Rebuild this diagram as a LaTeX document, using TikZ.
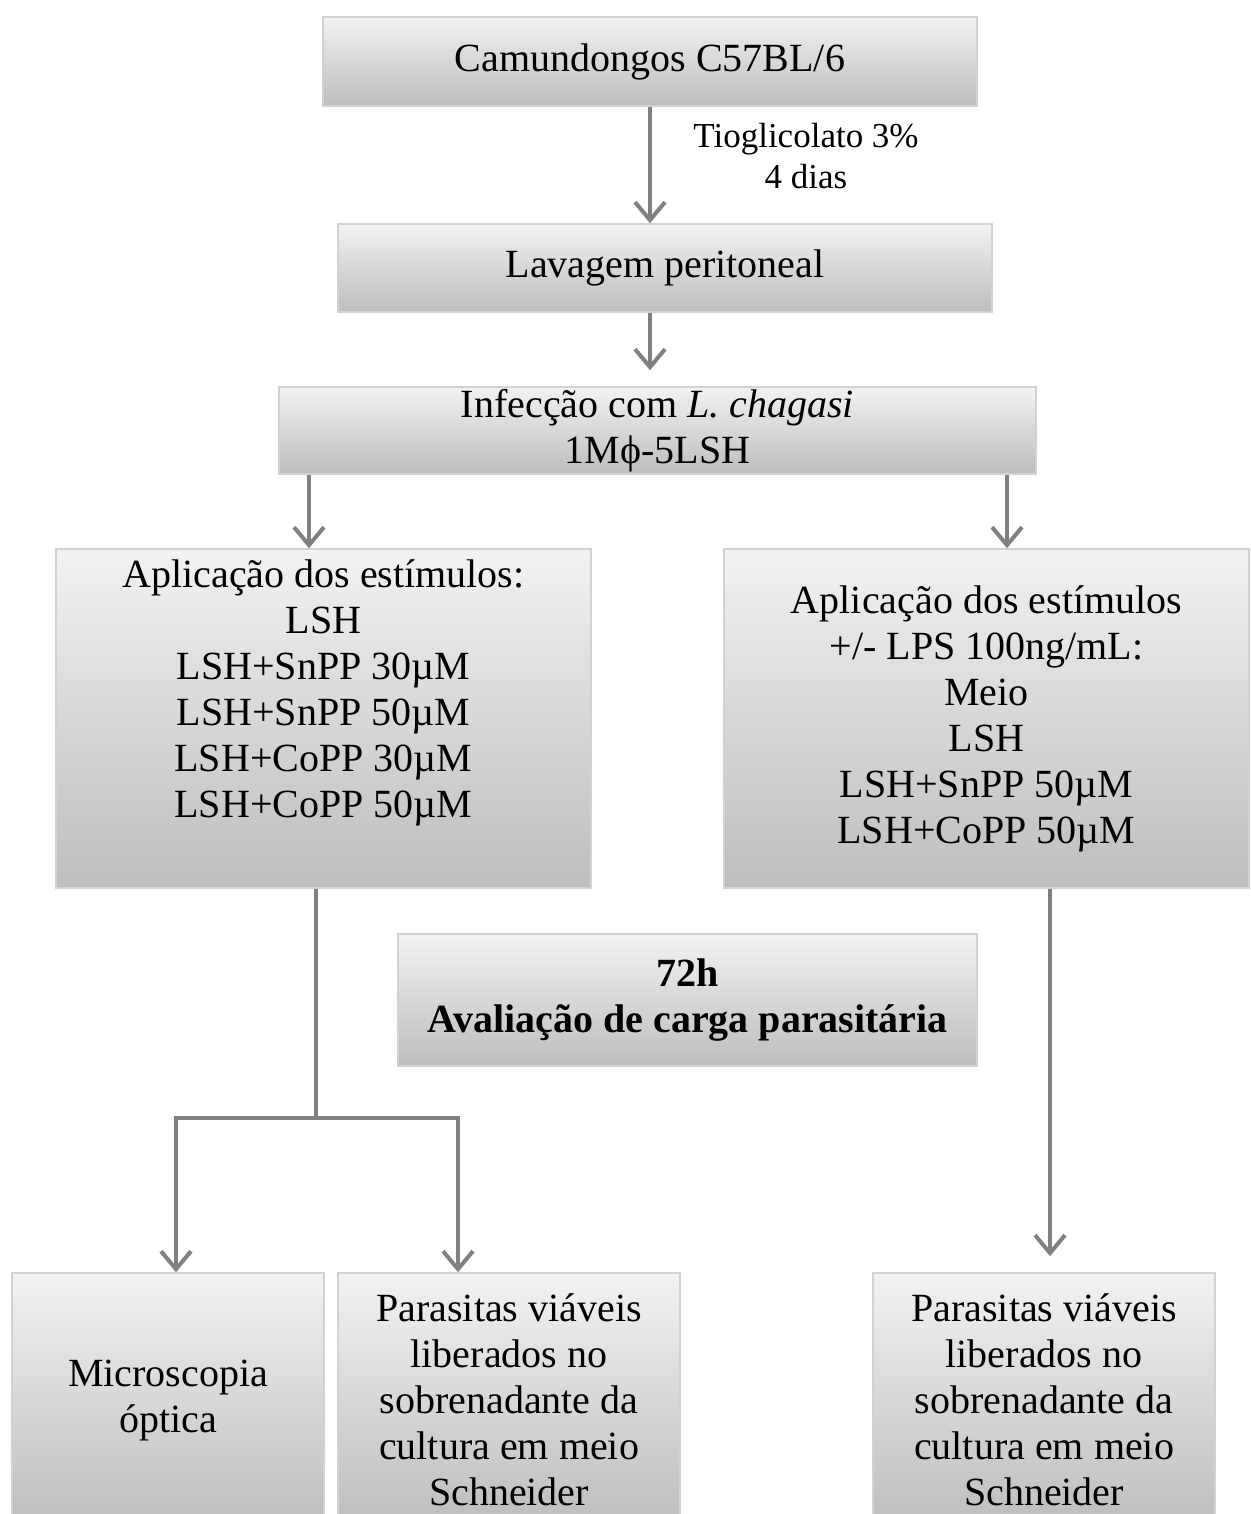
\documentclass[tikz,border=0pt]{standalone}
\usepackage{fontspec}
\setmainfont{Liberation Serif}
\usetikzlibrary{arrows.meta,positioning}

\definecolor{boxtop}{HTML}{F2F2F2}
\definecolor{boxbot}{HTML}{BDBDBD}
\definecolor{boxline}{HTML}{D2D2D2}
\definecolor{arrowgray}{HTML}{808080}

\tikzset{
    box/.style={draw=boxline,line width=0.75pt,top color=boxtop,bottom color=boxbot,
        align=center,inner sep=0pt,font=\fontsize{20}{23}\selectfont},
    conn/.style={draw=arrowgray,line width=2pt},
    arr/.style={conn,-{Straight Barb[length=9pt,width=15pt]}}
}

\begin{document}
\begin{tikzpicture}[x=0.5pt,y=-0.5pt]
        \useasboundingbox (0,0) rectangle (1250,1514);
        % top of the flow
        \node[box,minimum width=327pt,minimum height=44.5pt] (camundongos) at (650,61.5) {Camundongos C57BL/6};
        \node[align=center,font=\fontsize{17.5}{20.5}\selectfont] (tioglicolato) at (806,156) {Tioglicolato 3\%\\4 dias};
        \node[box,minimum width=327pt,minimum height=44pt] (lavagem) at (665,268) {Lavagem peritoneal};
        \node[box,minimum width=378.5pt,minimum height=43.5pt] (infeccao) at (657.5,430.5) {Infecção com \textit{L. chagasi}\\1Mϕ-5LSH};
        % stimuli
        \node[box,minimum width=267.5pt,minimum height=169.5pt] (estimL) at (323.5,718.5) {Aplicação dos estímulos:\\LSH\\LSH+SnPP 30µM\\LSH+SnPP 50µM\\LSH+CoPP 30µM\\LSH+CoPP 50µM\\\strut};
        \node[box,minimum width=262.5pt,minimum height=169.5pt] (estimR) at (986.5,718.5) {Aplicação dos estímulos\\+/- LPS 100ng/mL:\\Meio\\LSH\\LSH+SnPP 50µM\\LSH+CoPP 50µM};
        \node[box,font=\fontsize{20}{23}\selectfont\bfseries,minimum width=289.5pt,minimum height=66pt] (avaliacao) at (687.5,1000) {72h\\Avaliação de carga parasitária};
        % read-outs
        \node[box,minimum width=156pt,minimum height=127pt] (micro) at (168,1400) {Microscopia\\óptica};
        \node[box,minimum width=171pt,minimum height=127pt] (parasL) at (509,1400) {Parasitas viáveis\\liberados no\\sobrenadante da\\cultura em meio\\Schneider};
        \node[box,minimum width=171pt,minimum height=127pt] (parasR) at (1044,1400) {Parasitas viáveis\\liberados no\\sobrenadante da\\cultura em meio\\Schneider};

        \coordinate (split) at (316,1118);
        \coordinate (brL) at (176,1118);
        \coordinate (brR) at (458,1118);

        \draw[arr] (camundongos.south) -- (camundongos.south |- lavagem.north);
        \draw[arr,shorten >=8pt] (lavagem.south -| camundongos) -- (infeccao.north -| camundongos);
        \draw[arr] (infeccao.south -| 309,0) -- (estimL.north -| 309,0);
        \draw[arr] (infeccao.south -| 1007,0) -- (estimR.north -| 1007,0);
        \draw[conn] (estimL.south -| split) -- (split);
        \draw[arr] (split) -- (brL) -- (brL |- micro.north);
        \draw[arr] (split) -- (brR) -- (brR |- parasL.north);
        \draw[arr,shorten >=8pt] (estimR.south -| 1050,0) -- (parasR.north -| 1050,0);
    \end{tikzpicture}
\end{document}
